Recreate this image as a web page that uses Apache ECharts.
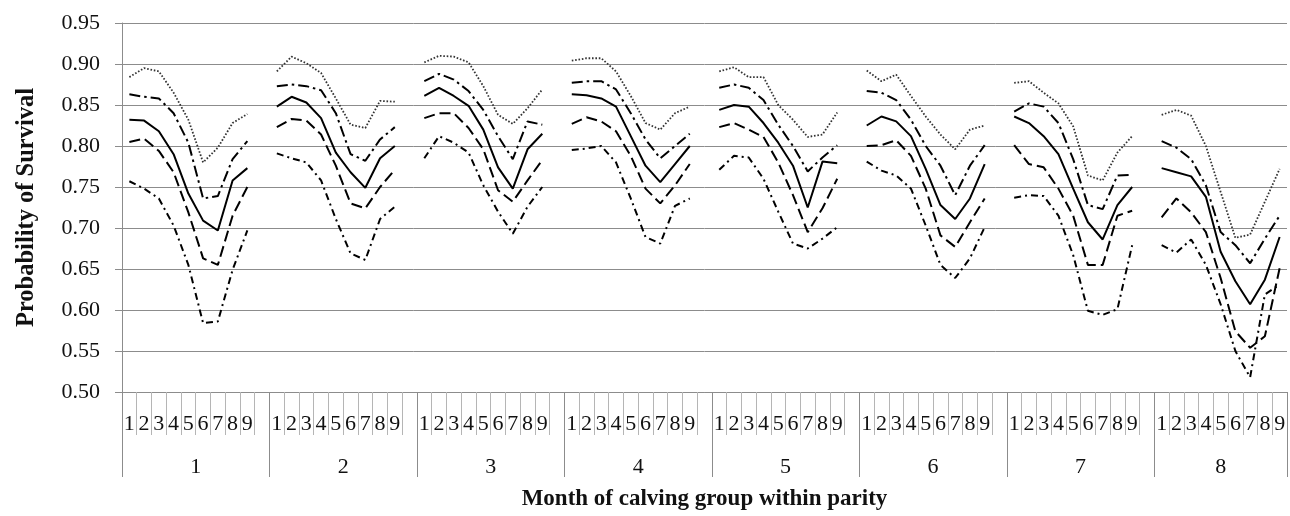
<!DOCTYPE html>
<html><head><meta charset="utf-8">
<script src="https://cdn.jsdelivr.net/npm/echarts@6/dist/echarts.min.js"></script>
<style>html,body{margin:0;padding:0;background:#fff}#c{width:1290px;height:516px}</style>
</head><body><div id="c"></div>
<script>
// Parity groups and month-of-calving groups
const parities = ['1','2','3','4','5','6','7','8'];
const months = ['1','2','3','4','5','6','7','8','9'];

// Series values (9 months per parity, parities 1..8)
const upperOuter = [
  0.884,0.895,0.891,0.865,0.832,0.780,0.798,0.828,0.839,
  0.891,0.909,0.901,0.889,0.858,0.826,0.822,0.855,0.854,
  0.902,0.910,0.909,0.902,0.873,0.838,0.827,0.846,0.869,
  0.904,0.907,0.907,0.891,0.861,0.828,0.820,0.840,0.848,
  0.891,0.896,0.884,0.884,0.850,0.832,0.811,0.814,0.841,
  0.892,0.879,0.887,0.861,0.836,0.814,0.796,0.820,0.825,
  0.877,0.879,0.865,0.852,0.824,0.764,0.758,0.792,0.812,
  0.838,0.844,0.837,0.800,0.744,0.688,0.692,0.732,0.772
];
const upperInner = [
  0.863,0.860,0.858,0.840,0.804,0.736,0.739,0.784,0.806,
  0.873,0.875,0.873,0.868,0.840,0.790,0.782,0.808,0.823,
  0.879,0.888,0.881,0.867,0.844,0.812,0.784,0.830,0.826,
  0.877,0.879,0.879,0.869,0.840,0.808,0.785,0.800,0.815,
  0.871,0.875,0.871,0.856,0.826,0.800,0.769,0.786,0.801,
  0.867,0.865,0.856,0.832,0.800,0.776,0.740,0.776,0.801,
  0.842,0.852,0.848,0.828,0.784,0.728,0.723,0.764,0.765,
  0.806,0.798,0.784,0.752,0.695,0.679,0.657,0.687,0.715
];
const estimate = [
  0.832,0.831,0.818,0.790,0.742,0.709,0.697,0.758,0.773,
  0.848,0.860,0.853,0.834,0.792,0.768,0.749,0.785,0.800,
  0.861,0.871,0.861,0.849,0.820,0.774,0.748,0.796,0.815,
  0.863,0.862,0.858,0.848,0.812,0.776,0.756,0.778,0.800,
  0.844,0.850,0.848,0.828,0.804,0.776,0.725,0.781,0.779,
  0.825,0.836,0.830,0.812,0.772,0.728,0.711,0.736,0.778,
  0.836,0.828,0.812,0.790,0.748,0.707,0.686,0.728,0.750,
  0.773,0.768,0.763,0.738,0.671,0.635,0.607,0.637,0.689
];
const lowerInner = [
  0.805,0.809,0.794,0.768,0.719,0.663,0.655,0.715,0.750,
  0.823,0.833,0.831,0.814,0.776,0.730,0.724,0.750,0.771,
  0.834,0.840,0.840,0.822,0.796,0.746,0.732,0.758,0.783,
  0.827,0.835,0.830,0.818,0.788,0.748,0.730,0.752,0.778,
  0.823,0.828,0.820,0.811,0.780,0.740,0.695,0.724,0.760,
  0.800,0.801,0.807,0.788,0.748,0.691,0.677,0.707,0.736,
  0.801,0.778,0.774,0.748,0.715,0.655,0.655,0.715,0.721,
  0.713,0.736,0.719,0.695,0.639,0.574,0.554,0.568,0.651
];
const lowerOuter = [
  0.757,0.748,0.736,0.703,0.655,0.584,0.586,0.649,0.697,
  0.791,0.785,0.780,0.758,0.711,0.669,0.661,0.711,0.726,
  0.785,0.812,0.804,0.792,0.752,0.720,0.693,0.726,0.750,
  0.795,0.797,0.800,0.780,0.736,0.689,0.681,0.727,0.736,
  0.771,0.788,0.786,0.760,0.720,0.681,0.675,0.687,0.701,
  0.781,0.770,0.764,0.748,0.703,0.655,0.639,0.663,0.701,
  0.737,0.740,0.739,0.715,0.667,0.599,0.594,0.601,0.679,
  0.679,0.670,0.686,0.655,0.607,0.550,0.518,0.619,0.631
];

// Build the category list: 9 months per parity plus a blank spacer slot between parities
const cats = [];
const groupStarts = [];
const groupLens = [];
parities.forEach((p, gi) => {
  groupStarts.push(cats.length);
  months.forEach(m => cats.push(m));
  if (gi < parities.length - 1) cats.push('');
  groupLens.push(cats.length - groupStarts[gi]);
});
const boundaries = groupStarts.map(s => s - 0.5).concat([cats.length - 0.5]);
const centers = parities.map((p, gi) => groupStarts[gi] + (groupLens[gi] - 1) / 2);

function expand(vals) {
  const out = [];
  parities.forEach((p, gi) => {
    for (let k = 0; k < months.length; k++) out.push(vals[gi * months.length + k]);
    if (gi < parities.length - 1) out.push(null);
  });
  return out;
}

const FONT = '"Liberation Serif","Times New Roman",serif';
const chart = echarts.init(document.getElementById('c'), null, {renderer: 'canvas'});

function line(name, vals, type, width, color) {
  return {
    name, type: 'line', data: expand(vals), xAxisIndex: 0, yAxisIndex: 0,
    showSymbol: false, symbol: 'none', connectNulls: false, silent: true,
    lineStyle: {color: color || '#000', width: width, type: type, cap: 'butt'},
    animation: false
  };
}

chart.setOption({
  animation: false,
  backgroundColor: '#fff',
  grid: {left: 122, right: 3, top: 23, bottom: 122, containLabel: false},
  xAxis: [
    {
      type: 'category', data: cats, position: 'bottom', boundaryGap: true,
      axisLine: {show: true, onZero: false, lineStyle: {color: '#8c8c8c', width: 1}},
      axisTick: {show: true, interval: 0, length: 43, lineStyle: {color: '#b5b5b5', width: 1}},
      axisLabel: {interval: 0, margin: 21, color: '#111', fontFamily: FONT, fontSize: 22},
      splitLine: {show: false}
    },
    {
      type: 'value', min: -0.5, max: cats.length - 0.5, position: 'bottom',
      axisLine: {show: false, onZero: false},
      axisTick: {show: true, customValues: boundaries, length: 85, lineStyle: {color: '#8c8c8c', width: 1}},
      axisLabel: {
        customValues: centers, margin: 64, color: '#111', fontFamily: FONT, fontSize: 22,
        formatter: v => { const i = centers.findIndex(c => Math.abs(c - v) < 1e-6); return i >= 0 ? parities[i] : ''; }
      },
      splitLine: {show: false},
      name: 'Month of calving group within parity', nameLocation: 'middle', nameGap: 96,
      nameTextStyle: {color: '#111', fontFamily: FONT, fontSize: 23, fontWeight: 'bold'}
    }
  ],
  yAxis: {
    type: 'value', min: 0.5, max: 0.95, interval: 0.05,
    axisLine: {show: true, onZero: false, lineStyle: {color: '#8c8c8c', width: 1}},
    axisTick: {show: true, length: 7, lineStyle: {color: '#8c8c8c'}},
    axisLabel: {margin: 22, color: '#111', fontFamily: FONT, fontSize: 22, formatter: v => v.toFixed(2)},
    splitLine: {show: true, lineStyle: {color: '#8c8c8c', width: 1}},
    name: 'Probability of Survival', nameLocation: 'middle', nameGap: 83, nameRotate: 90,
    nameTextStyle: {color: '#111', fontFamily: FONT, fontSize: 24.5, fontWeight: 'bold'}
  },
  series: [
    line('Upper outer', upperOuter, [1.6, 1.8], 1.8, '#333'),
    line('Upper inner', upperInner, [11, 4, 2.5, 4], 2),
    line('Estimate', estimate, 'solid', 2),
    line('Lower inner', lowerInner, [11, 5], 2),
    line('Lower outer', lowerOuter, [7, 4, 2, 4], 2)
  ]
});
</script>
</body></html>
